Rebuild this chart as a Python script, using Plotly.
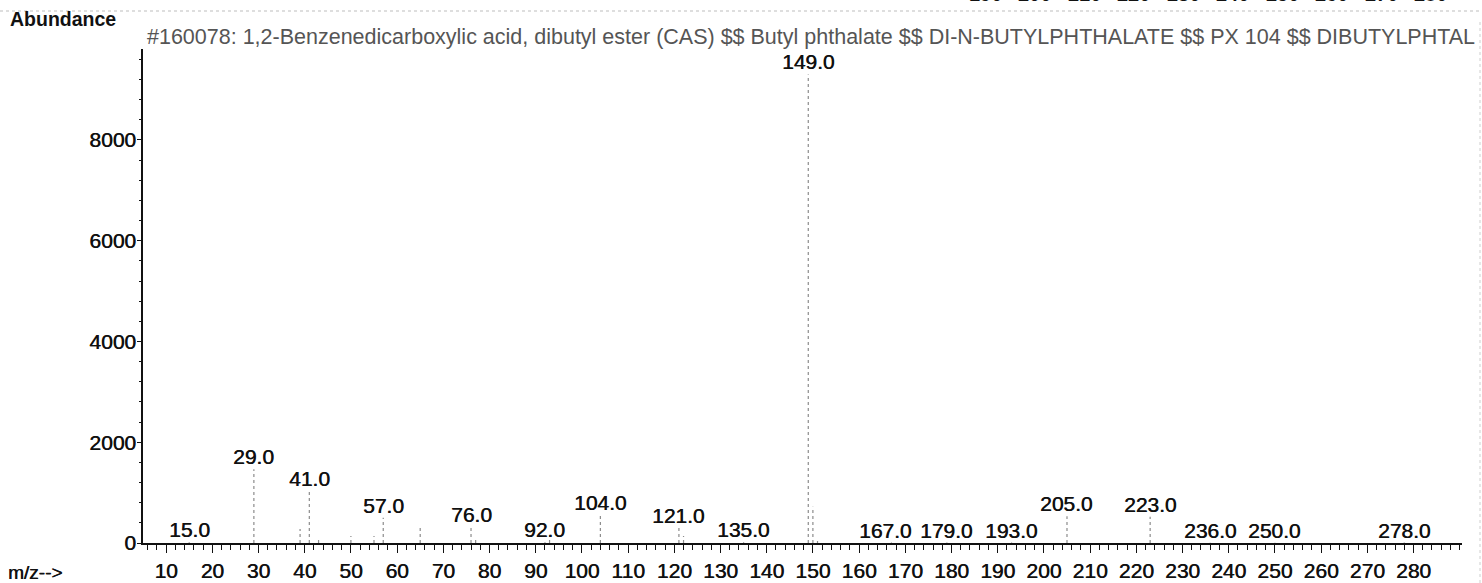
import plotly.graph_objects as go

# ---- data ----
mz_labeled = [15, 29, 41, 57, 76, 92, 104, 121, 135, 149, 167, 179, 193, 205, 223, 236, 250, 278]
ab_labeled = [15, 1465, 1030, 500, 320, 15, 550, 300, 15, 9300, 10, 10, 10, 530, 520, 5, 5, 10]
mz_other = [39, 43, 50, 55, 65, 77, 93, 122, 150, 151]
ab_other = [280, 60, 140, 140, 320, 100, 150, 140, 720, 40]
x_tick_vals = list(range(10, 290, 10))
y_tick_vals = [0, 2000, 4000, 6000, 8000]
top_fragment_labels = ["190", "200", "210", "220", "230", "240", "250", "260", "270", "280"]
title_text = ("#160078: 1,2-Benzenedicarboxylic acid, dibutyl ester (CAS) $$ Butyl phthalate "
              "$$ DI-N-BUTYLPHTHALATE $$ PX 104 $$ DIBUTYLPHTAL")

FONT = "Liberation Sans, Arial, sans-serif"
SHADOW = "0.5px 0px 0px #111"
W, H = 1482, 583
ML, MR, MT, MB = 143, 20, 49, 40
PW, PH = W - ML - MR, H - MT - MB

# all peaks as stick lines
all_mz = mz_labeled + mz_other
all_ab = ab_labeled + ab_other
xs, ys = [], []
for m, a in sorted(zip(all_mz, all_ab)):
    xs += [m, m, None]
    ys += [0, a, None]

fig = go.Figure()
fig.add_trace(go.Scatter(x=xs, y=ys, mode="lines",
                         line=dict(color="#8c8c8c", width=1.2, dash="dot"),
                         hoverinfo="skip", showlegend=False))

# peak labels
xshift = {167: -6}
for m, a in zip(mz_labeled, ab_labeled):
    fig.add_annotation(x=m, y=a, text=f"{m:.1f}", showarrow=False,
                       xanchor="center", yanchor="bottom", xshift=xshift.get(m, 0),
                       borderpad=0,
                       font=dict(family=FONT, size=21, color="#111", shadow=SHADOW))

# title / labels
fig.add_annotation(xref="paper", yref="paper", x=(146 - ML) / PW, y=1, yshift=12,
                   xanchor="left", yanchor="middle", text=title_text, showarrow=False,
                   borderpad=0, font=dict(family=FONT, size=21.5, color="#555"))
fig.add_annotation(xref="paper", yref="paper", x=(8 - ML) / PW, y=1, yshift=MT - 19,
                   xanchor="left", yanchor="middle", text="<b>Abundance</b>", showarrow=False,
                   font=dict(family=FONT, size=19.5, color="#111"))
fig.add_annotation(xref="paper", yref="paper", x=(7 - ML) / PW, y=0, yshift=-29,
                   xanchor="left", yanchor="middle", text="m/z-->", showarrow=False,
                   borderpad=0,
                   font=dict(family=FONT, size=19, color="#111", shadow=SHADOW))

# cut-off fragments of the chart above
fig.add_annotation(xref="paper", yref="paper", x=(7 - ML) / PW, y=1, yshift=MT + 7,
                   xanchor="left", yanchor="middle", text="<b>m/z --></b>", showarrow=False,
                   font=dict(family=FONT, size=20, color="#111"))
for i, t in enumerate(top_fragment_labels):
    fig.add_annotation(xref="paper", yref="paper", x=(985 + 49.5 * i - ML) / PW, y=1,
                       yshift=MT + 6, xanchor="center", yanchor="middle", text=f"<b>{t}</b>",
                       showarrow=False, font=dict(family=FONT, size=20, color="#111"))

# scan separator lines
fig.add_shape(type="line", xref="paper", yref="paper", x0=-ML / PW, x1=1 + MR / PW,
              y0=1 + (MT - 11) / PH, y1=1 + (MT - 11) / PH,
              line=dict(color="#bdbdbd", width=1, dash="dot"))
fig.add_shape(type="line", xref="paper", yref="paper", x0=1 + (1480 - ML - PW) / PW,
              x1=1 + (1480 - ML - PW) / PW, y0=-MB / PH, y1=1 + 30 / PH,
              line=dict(color="#cfcfcf", width=1, dash="dot"))

fig.update_layout(
    width=W, height=H,
    margin=dict(l=ML, r=MR, t=MT, b=MB, pad=0, autoexpand=False),
    paper_bgcolor="white", plot_bgcolor="white",
    font=dict(family=FONT, size=21, color="#111"),
    showlegend=False,
    xaxis=dict(range=[5, 290.5], showgrid=False, zeroline=False, automargin=False,
               showline=True, linecolor="#111", linewidth=1.5,
               tickmode="array", tickvals=x_tick_vals,
               ticks="outside", ticklen=8, tickwidth=1.3, tickcolor="#111",
               ticklabelstandoff=0,
               tickfont=dict(family=FONT, size=21, color="#111", shadow=SHADOW),
               minor=dict(dtick=2, tick0=0, ticks="outside", ticklen=5,
                          tickwidth=1, tickcolor="#111", showgrid=False)),
    yaxis=dict(range=[0, 9806], showgrid=False, zeroline=False, automargin=False,
               showline=True, linecolor="#111", linewidth=1.5,
               tickmode="array", tickvals=y_tick_vals,
               ticks="outside", ticklen=4, tickwidth=1.2, tickcolor="#111",
               ticklabelstandoff=-3,
               tickfont=dict(family=FONT, size=21, color="#111", shadow=SHADOW),
               minor=dict(dtick=400, tick0=0, ticks="outside", ticklen=2,
                          tickwidth=1, tickcolor="#111", showgrid=False)),
)

fig.write_html("out.html")
